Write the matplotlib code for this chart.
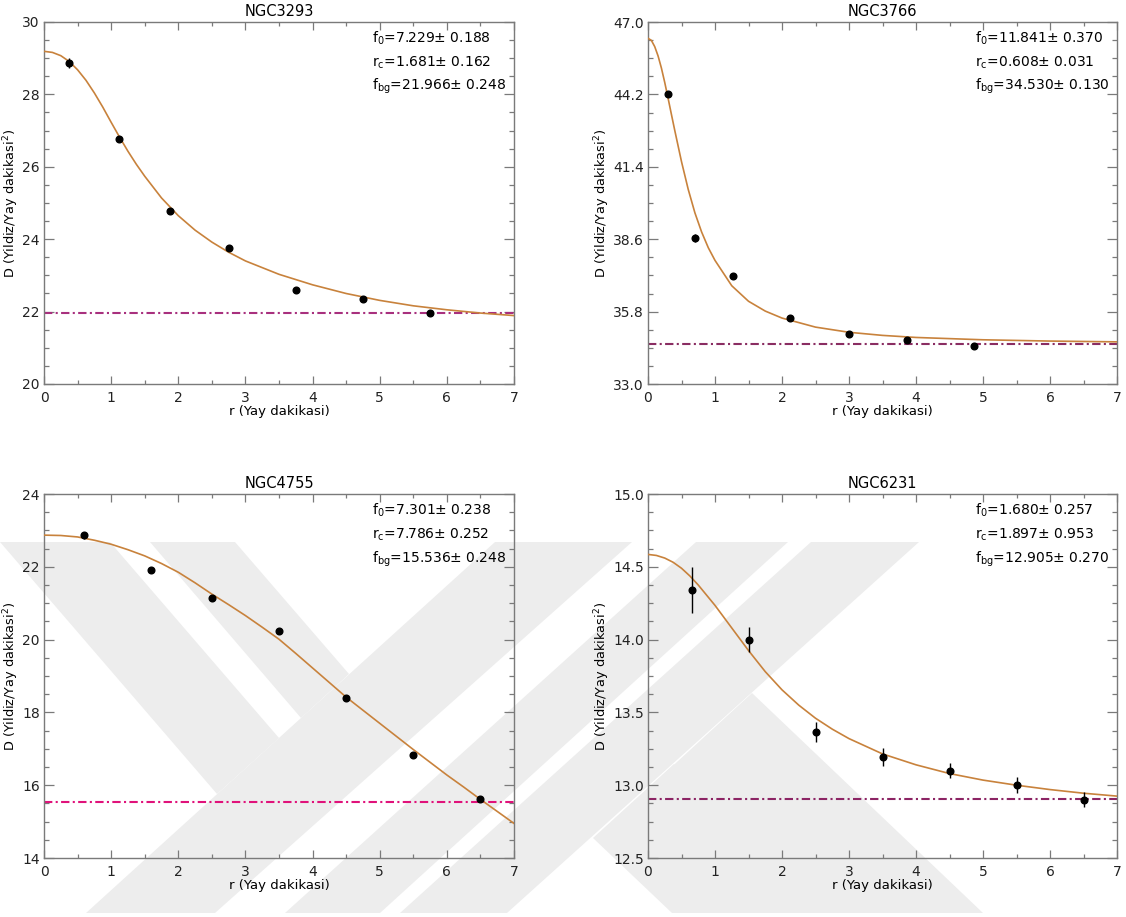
import matplotlib

matplotlib.use("Agg")
import matplotlib.pyplot as plt
from matplotlib.patches import Polygon
from matplotlib.ticker import AutoMinorLocator, MultipleLocator

plt.rcParams["font.family"] = ["DejaVu Sans"]
plt.rcParams["mathtext.default"] = "regular"

# ---- data ----
CLUSTERS = ["NGC3293", "NGC3766", "NGC4755", "NGC6231"]

R_3293 = [0.37, 1.12, 1.88, 2.75, 3.75, 4.75, 5.75]
D_3293 = [28.87, 26.78, 24.78, 23.77, 22.61, 22.34, 21.95]
E_3293 = [0.14, 0.07, 0.06, 0.05, 0.05, 0.05, 0.05]
FIT_R_3293 = [0.0, 0.125, 0.25, 0.375, 0.5, 0.625, 0.75, 0.875, 1.0, 1.125, 1.25, 1.375,
              1.5, 1.75, 2.0, 2.25, 2.5, 2.75, 3.0, 3.5, 4.0, 4.5, 5.0, 5.5, 6.0, 6.5, 7.0]
FIT_D_3293 = [29.19, 29.16, 29.07, 28.91, 28.68, 28.39, 28.04, 27.65, 27.23, 26.82, 26.43,
              26.07, 25.74, 25.14, 24.65, 24.25, 23.92, 23.64, 23.40, 23.03, 22.74, 22.50,
              22.31, 22.16, 22.05, 21.96, 21.89]

R_3766 = [0.30, 0.70, 1.27, 2.12, 3.0, 3.87, 4.87]
D_3766 = [44.2, 38.65, 37.18, 35.56, 34.92, 34.72, 34.48]
E_3766 = [0.1, 0.15, 0.07, 0.05, 0.05, 0.05, 0.04]
FIT_R_3766 = [0.0, 0.05, 0.1, 0.15, 0.2, 0.25, 0.3, 0.35, 0.4, 0.5, 0.6, 0.7, 0.8, 0.9,
              1.0, 1.25, 1.5, 1.75, 2.0, 2.5, 3.0, 3.5, 4.0, 5.0, 6.0, 7.0]
FIT_D_3766 = [46.37, 46.29, 46.05, 45.69, 45.22, 44.66, 44.05, 43.42, 42.8, 41.6, 40.53,
              39.62, 38.88, 38.27, 37.78, 36.8, 36.2, 35.82, 35.55, 35.2, 35.0, 34.88,
              34.8, 34.71, 34.66, 34.63]

R_4755 = [0.6, 1.6, 2.5, 3.5, 4.5, 5.5, 6.5]
D_4755 = [22.86, 21.91, 21.14, 20.24, 18.40, 16.84, 15.62]
E_4755 = [0.1, 0.05, 0.05, 0.05, 0.05, 0.05, 0.05]
FIT_R_4755 = [0.0, 0.25, 0.5, 0.75, 1.0, 1.25, 1.5, 1.75, 2.0, 2.25, 2.5, 2.75, 3.0, 3.25,
              3.5, 3.75, 4.0, 4.25, 4.5, 4.75, 5.0, 5.25, 5.5, 5.75, 6.0, 6.25, 6.5, 6.75, 7.0]
FIT_D_4755 = [22.87, 22.86, 22.82, 22.73, 22.62, 22.47, 22.3, 22.09, 21.85, 21.56, 21.25,
              20.96, 20.66, 20.34, 20.01, 19.62, 19.22, 18.82, 18.42, 18.06, 17.7, 17.34,
              16.98, 16.63, 16.28, 15.95, 15.61, 15.28, 14.95]

R_6231 = [0.65, 1.5, 2.5, 3.5, 4.5, 5.5, 6.5]
D_6231 = [14.34, 14.0, 13.367, 13.195, 13.1, 13.0, 12.9]
E_6231 = [0.16, 0.085, 0.07, 0.06, 0.053, 0.055, 0.053]
FIT_R_6231 = [0.0, 0.125, 0.25, 0.375, 0.5, 0.625, 0.75, 1.0, 1.25, 1.5, 1.75, 2.0, 2.25,
              2.5, 2.75, 3.0, 3.5, 4.0, 4.5, 5.0, 5.5, 6.0, 6.5, 7.0]
FIT_D_6231 = [14.585, 14.578, 14.56, 14.531, 14.49, 14.437, 14.375, 14.235, 14.08, 13.925,
              13.78, 13.655, 13.55, 13.46, 13.385, 13.32, 13.215, 13.14, 13.08, 13.035,
              13.0, 12.97, 12.945, 12.925]

# fit parameters printed in each panel: (value, error)
F0 = [(7.229, 0.188), (11.841, 0.370), (7.301, 0.238), (1.680, 0.257)]
RC = [(1.681, 0.162), (0.608, 0.031), (7.786, 0.252), (1.897, 0.953)]
FBG = [(21.966, 0.248), (34.530, 0.130), (15.536, 0.248), (12.905, 0.270)]

Y_TICKS = [
    [20, 22, 24, 26, 28, 30],
    [33.0, 35.8, 38.6, 41.4, 44.2, 47.0],
    [14, 16, 18, 20, 22, 24],
    [12.5, 13.0, 13.5, 14.0, 14.5, 15.0],
]
Y_FMT = ["{:.0f}", "{:.1f}", "{:.0f}", "{:.1f}"]
BG_COLORS = ["#a8307e", "#8a2d62", "#e0127a", "#8c2464"]

# page watermark (light grey logo behind the lower panels), figure pixels
WATERMARK_SHAPES = [
    [(0, 542), (110, 542), (279, 738), (217, 794)],
    [(150, 542), (235, 542), (349, 674), (301, 718)],
    [(495, 542), (632, 542), (215, 913), (86, 913)],
    [(696, 542), (788, 542), (380, 913), (285, 913)],
    [(811, 542), (919, 542), (507, 913), (400, 913)],
    [(593, 838), (674, 764), (830, 913), (672, 913)],
    [(665, 773), (752, 693), (983, 913), (811, 913)],
]

W, H = 1126, 917
FIT_COLOR = "#c8823c"
AXIS_GRAY = "#7a7a7a"


def draw_watermark(fig):
    wm = fig.add_axes([0, 0, 1, 1], zorder=-5)
    wm.set_xlim(0, W)
    wm.set_ylim(H, 0)
    wm.axis("off")
    for verts in WATERMARK_SHAPES:
        wm.add_patch(Polygon(verts, closed=True, facecolor="#ededed", edgecolor="none"))


def panel(ax, i, r, d, e, fit_r, fit_d):
    ax.set_facecolor("none")
    ax.plot(fit_r, fit_d, color=FIT_COLOR, lw=1.2, zorder=3)
    ax.axhline(FBG[i][0], color=BG_COLORS[i], lw=1.5, dashes=(4, 1.6, 1, 1.6), zorder=2)
    ax.errorbar(r, d, yerr=e, fmt="o", color="black", ms=4.8, elinewidth=1.0,
                capsize=0, zorder=4)

    ax.set_xlim(0, 7)
    ax.set_ylim(Y_TICKS[i][0], Y_TICKS[i][-1])
    ax.xaxis.set_major_locator(MultipleLocator(1))
    ax.xaxis.set_minor_locator(AutoMinorLocator(2))
    ax.set_yticks(Y_TICKS[i])
    ax.set_yticklabels([Y_FMT[i].format(v) for v in Y_TICKS[i]])
    ax.yaxis.set_minor_locator(AutoMinorLocator(4))

    ax.tick_params(which="both", direction="in", top=True, right=True,
                   color=AXIS_GRAY, labelsize=10, labelcolor="#222222")
    ax.tick_params(axis="y", which="major", length=7.5, width=0.9, pad=3)
    ax.tick_params(axis="y", which="minor", length=3.8, width=0.9)
    ax.tick_params(axis="x", which="major", length=5.5, width=0.9, pad=5)
    ax.tick_params(axis="x", which="minor", length=3.0, width=0.9)
    for sp in ax.spines.values():
        sp.set_color(AXIS_GRAY)
        sp.set_linewidth(1.0)

    ax.set_title(CLUSTERS[i], fontsize=10.5, pad=4)
    ax.set_xlabel("r (Yay dakikasi)", fontsize=9.5, labelpad=0)
    ax.set_ylabel("D (Yildiz/Yay dakikasi$^2$)", fontsize=9.3, labelpad=1)

    lines = [
        ("f$_0$", F0[i]),
        ("r$_c$", RC[i]),
        ("f$_{bg}$", FBG[i]),
    ]
    for k, (name, (val, err)) in enumerate(lines):
        ax.text(0.697, 0.955 - k * 0.067, f"{name}={val:.3f}\u00b1 {err:.3f}",
                transform=ax.transAxes, fontsize=10, va="center", ha="left")


def main():
    fig = plt.figure(figsize=(W / 100, H / 100), dpi=100)
    draw_watermark(fig)

    boxes = [
        [44 / W, 1 - 384 / H, 470 / W, 362 / H],
        [648 / W, 1 - 384 / H, 469 / W, 362 / H],
        [44 / W, 1 - 858 / H, 470 / W, 364 / H],
        [648 / W, 1 - 858 / H, 469 / W, 364 / H],
    ]
    series = [
        (R_3293, D_3293, E_3293, FIT_R_3293, FIT_D_3293),
        (R_3766, D_3766, E_3766, FIT_R_3766, FIT_D_3766),
        (R_4755, D_4755, E_4755, FIT_R_4755, FIT_D_4755),
        (R_6231, D_6231, E_6231, FIT_R_6231, FIT_D_6231),
    ]
    for i, (box, s) in enumerate(zip(boxes, series)):
        ax = fig.add_axes(box)
        panel(ax, i, *s)

    fig.savefig("out.png", dpi=100, facecolor="white")
    plt.close(fig)


if __name__ == "__main__":
    main()
